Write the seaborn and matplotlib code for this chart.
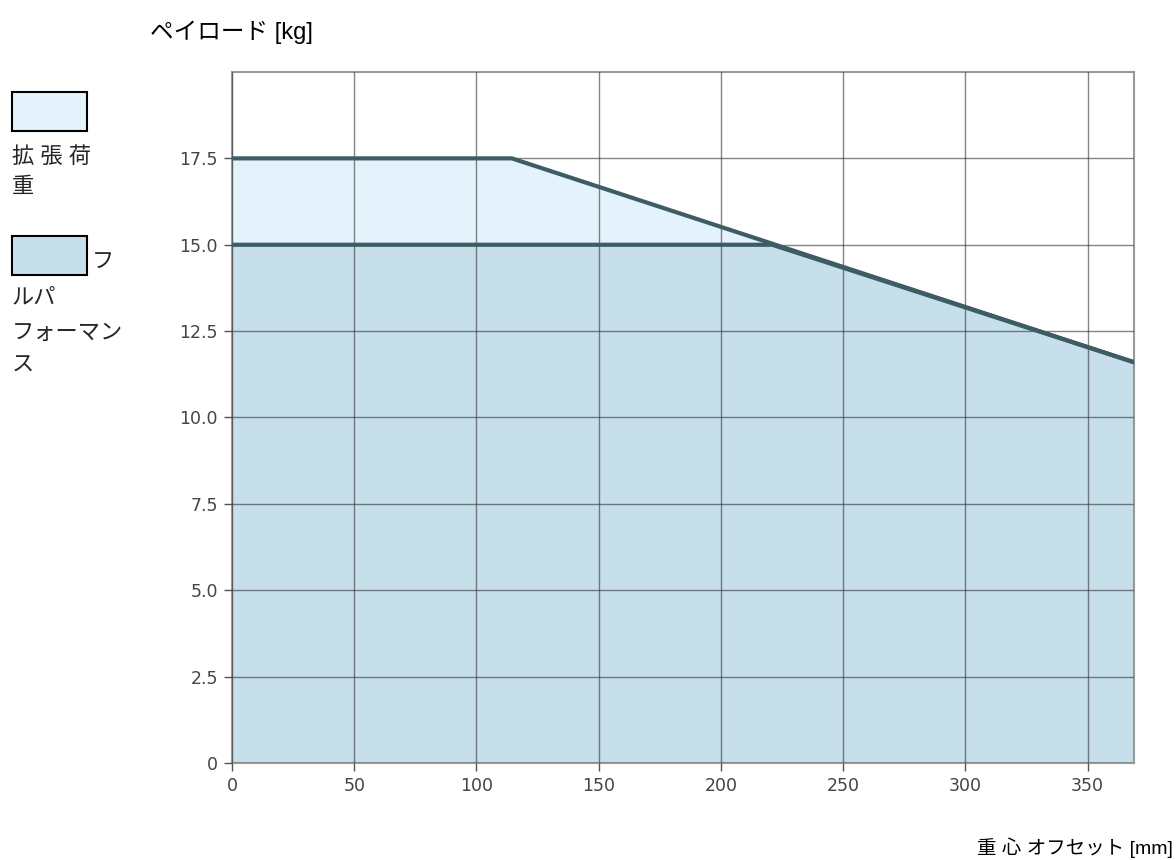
import matplotlib
matplotlib.use('agg')
import matplotlib.pyplot as plt
import matplotlib.patches as mpatches
import seaborn as sns
import pandas as pd

# payload chart data
offset_ext = [0, 114.5, 369]
payload_ext = [17.5, 17.5, 11.6]
offset_full = [0, 221, 369]
payload_full = [15.0, 15.0, 11.6]

xticks = [0, 50, 100, 150, 200, 250, 300, 350]
yticks = [0, 2.5, 5.0, 7.5, 10.0, 12.5, 15.0, 17.5]
ytick_labels = ["0", "2.5", "5.0", "7.5", "10.0", "12.5", "15.0", "17.5"]

ext_color = "#e3f2fb"
full_color = "#c6dfea"
line_color = "#3e5c65"

sns.set_theme(style="white")
plt.rcParams['font.family'] = ['Liberation Sans', 'Noto Sans CJK JP', 'DejaVu Sans']

fig = plt.figure(figsize=(11.76, 8.6), dpi=100)
ax = fig.add_axes([232/1176, 1-763/860, (1134-232)/1176, (763-72)/860])

ax.fill_between(offset_ext, payload_ext, 0, color=ext_color, lw=0, zorder=1)
ax.fill_between(offset_full, payload_full, 0, color=full_color, lw=0, zorder=2)

df_ext = pd.DataFrame({"offset": offset_ext, "payload": payload_ext})
df_full = pd.DataFrame({"offset": offset_full, "payload": payload_full})
sns.lineplot(data=df_ext, x="offset", y="payload", ax=ax, color=line_color, lw=3, zorder=4, sort=False)
sns.lineplot(data=df_full, x="offset", y="payload", ax=ax, color=line_color, lw=3, zorder=4, sort=False)

ax.set_xlim(0, 369)
ax.set_ylim(0, 20)
ax.set_xticks(xticks)
ax.set_xticklabels([str(t) for t in xticks], family='DejaVu Sans', fontsize=12.5, color="#444444")
ax.set_yticks(yticks)
ax.set_yticklabels(ytick_labels, family='DejaVu Sans', fontsize=12.5, color="#444444")
ax.tick_params(axis='both', length=6, width=1, color="#555555", bottom=True, left=True, pad=4)
ax.grid(True, color="#333333", alpha=0.6, lw=1)
ax.set_axisbelow(False)
for s in ax.spines.values():
    s.set_color("#999999")
    s.set_linewidth(1.5)
ax.set_xlabel("")
ax.set_ylabel("")

fig.text(150/1176, 1-32/860, "ペイロード [kg]", fontsize=17, va='center', ha='left', color="black")
fig.text(1173/1176, 1-848/860, "重 心 オフセット [mm]", fontsize=14, va='center', ha='right', color="black")

# legend drawn manually at the left side
for (y0, col) in [(92, ext_color), (236, full_color)]:
    fig.patches.append(mpatches.Rectangle((12/1176, 1-(y0+39)/860), 75/1176, 39/860,
                                          transform=fig.transFigure, facecolor=col,
                                          edgecolor="black", lw=1.5))
fig.text(12/1176, 1-157/860, "拡 張 荷", fontsize=16, va='center', ha='left')
fig.text(12/1176, 1-187/860, "重", fontsize=16, va='center', ha='left')
fig.text(92/1176, 1-263/860, "フ", fontsize=16, va='center', ha='left')
fig.text(12/1176, 1-298/860, "ルパ", fontsize=16, va='center', ha='left')
fig.text(12/1176, 1-333/860, "フォーマン", fontsize=16, va='center', ha='left')
fig.text(12/1176, 1-366/860, "ス", fontsize=16, va='center', ha='left')

fig.savefig("out.png", dpi=100)
